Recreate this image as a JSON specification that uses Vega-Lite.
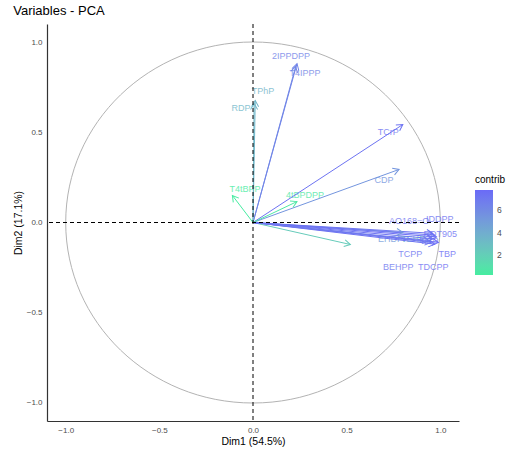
{
  "$schema": "https://vega.github.io/schema/vega-lite/v6.json",
  "width": 412,
  "height": 397,
  "autosize": "none",
  "padding": {"left": 47, "top": 24, "right": 56, "bottom": 29},
  "background": "white",
  "config": {
    "view": {"stroke": null},
    "font": "Liberation Sans"
  },
  "title": {"text": "Variables - PCA", "anchor": "start", "fontSize": 13, "fontWeight": "normal", "color": "#000000", "offset": 6},
  "resolve": {"scale": {"color": "shared"}, "legend": {"color": "independent"}},
  "datasets": {
    "vars": [
      {"name": "2IPPDPP", "x": 0.235, "y": 0.88, "lx": 0.203, "ly": 0.92, "contrib": 6.4},
      {"name": "T4IPPP", "x": 0.228, "y": 0.865, "lx": 0.278, "ly": 0.831, "contrib": 6.2},
      {"name": "TPhP", "x": 0.012, "y": 0.676, "lx": 0.053, "ly": 0.731, "contrib": 3.5},
      {"name": "RDP", "x": 0.006, "y": 0.66, "lx": -0.064, "ly": 0.632, "contrib": 3.4},
      {"name": "TCrP", "x": 0.8, "y": 0.543, "lx": 0.722, "ly": 0.499, "contrib": 7.3},
      {"name": "CDP", "x": 0.78, "y": 0.294, "lx": 0.7, "ly": 0.238, "contrib": 5.4},
      {"name": "T4tBPP", "x": -0.11, "y": 0.15, "lx": -0.043, "ly": 0.188, "contrib": 0.27},
      {"name": "4tBPDPP", "x": 0.235, "y": 0.116, "lx": 0.278, "ly": 0.155, "contrib": 0.53},
      {"name": "EHDPP", "x": 0.8, "y": -0.055, "lx": 0.75, "ly": -0.094, "contrib": 5.0},
      {"name": "TEHP", "x": 0.52, "y": -0.122, "lx": 0.855, "ly": -0.094, "contrib": 2.2},
      {"name": "AO168=O", "x": 0.96, "y": -0.06, "lx": 0.834, "ly": 0.006, "contrib": 7.2},
      {"name": "IDDPP", "x": 0.97, "y": -0.07, "lx": 0.997, "ly": 0.017, "contrib": 7.3},
      {"name": "RDT905", "x": 0.98, "y": -0.08, "lx": 1.0, "ly": -0.061, "contrib": 7.5},
      {"name": "TBP", "x": 0.99, "y": -0.11, "lx": 1.037, "ly": -0.177, "contrib": 7.7},
      {"name": "TDCPP", "x": 0.97, "y": -0.12, "lx": 0.963, "ly": -0.249, "contrib": 7.4},
      {"name": "BEHPP", "x": 0.95, "y": -0.11, "lx": 0.775, "ly": -0.249, "contrib": 7.1},
      {"name": "TCPP", "x": 0.96, "y": -0.09, "lx": 0.84, "ly": -0.172, "contrib": 7.2},
      {"name": "TiBP", "x": 0.94, "y": -0.1, "lx": 0.94, "ly": -0.1, "contrib": 6.9}
    ]
  },
  "layer": [
    {
      "data": {"values": [{"cx": 0, "cy": 0}]},
      "mark": {
        "type": "point",
        "shape": "M1,0C1,0.5322 0.5523,0.9637 0,0.9637C-0.5523,0.9637 -1,0.5322 -1,0C-1,-0.5322 -0.5523,-0.9637 0,-0.9637C0.5523,-0.9637 1,-0.5322 1,0Z",
        "filled": false,
        "stroke": "#b3b3b3",
        "strokeWidth": 1,
        "size": 140325,
        "opacity": 1
      },
      "encoding": {
        "x": {
          "field": "cx", "type": "quantitative",
          "scale": {"domain": [-1.1, 1.1], "nice": false, "zero": false},
          "axis": {"title": "Dim1 (54.5%)", "values": [-1, -0.5, 0, 0.5, 1], "format": ".1f", "grid": false, "ticks": false, "domainColor": "#333333", "domainWidth": 1.2, "labelColor": "#4d4d4d", "labelFontSize": 8, "labelPadding": 5, "titleFontSize": 10.5, "titleFontWeight": "normal", "titleColor": "#000000", "titlePadding": 2}
        },
        "y": {
          "field": "cy", "type": "quantitative",
          "scale": {"domain": [-1.1, 1.1], "nice": false, "zero": false},
          "axis": {"title": "Dim2 (17.1%)", "values": [-1, -0.5, 0, 0.5, 1], "format": ".1f", "grid": false, "ticks": false, "domainColor": "#333333", "domainWidth": 1.2, "labelColor": "#4d4d4d", "labelFontSize": 8, "labelPadding": 5, "titleFontSize": 10.5, "titleFontWeight": "normal", "titleColor": "#000000", "titlePadding": 3}
        }
      }
    },
    {
      "data": {"name": "vars"},
      "mark": {"type": "text", "fontSize": 9, "baseline": "middle", "align": "center", "opacity": 0.8},
      "encoding": {
        "x": {"field": "lx", "type": "quantitative"},
        "y": {"field": "ly", "type": "quantitative"},
        "text": {"field": "name", "type": "nominal"},
        "color": {"field": "contrib", "type": "quantitative", "legend": null}
      }
    },
    {
      "data": {"name": "vars"},
      "mark": {"type": "rule", "strokeWidth": 1},
      "encoding": {
        "x": {"field": "x", "type": "quantitative"},
        "y": {"field": "y", "type": "quantitative"},
        "x2": {"datum": 0},
        "y2": {"datum": 0},
        "color": {
          "field": "contrib", "type": "quantitative",
          "scale": {"domain": [0.22, 7.8], "range": ["#45eda0", "#6a6af7"], "interpolate": "lab", "nice": false, "zero": false},
          "legend": {"type": "gradient", "direction": "vertical", "title": "contrib", "orient": "none", "legendX": 428, "legendY": 151, "gradientLength": 85, "gradientThickness": 18, "values": [2, 4, 6], "titleFontSize": 10, "titleFontWeight": "normal", "titleColor": "#000000", "labelFontSize": 8.5, "labelColor": "#4d4d4d", "gradientStrokeWidth": 0, "labelOffset": 4, "titlePadding": 5}
        }
      }
    },
    {
      "data": {"name": "vars"},
      "transform": [{"calculate": "atan2(datum.x * 187.3, datum.y * 180.5) * 180 / PI", "as": "ang"}],
      "mark": {"type": "point", "shape": "M-0.5,0.866L0,0L0.5,0.866", "filled": false, "size": 196, "strokeWidth": 1, "opacity": 1},
      "encoding": {
        "x": {"field": "x", "type": "quantitative"},
        "y": {"field": "y", "type": "quantitative"},
        "angle": {"field": "ang", "type": "quantitative", "scale": {"domain": [0, 360], "range": [0, 360]}, "legend": null},
        "color": {"field": "contrib", "type": "quantitative", "legend": null}
      }
    },
    {
      "data": {"values": [{"z": 0}]},
      "mark": {"type": "rule", "strokeDash": [4, 3], "color": "#000000", "strokeWidth": 1},
      "encoding": {"y": {"field": "z", "type": "quantitative"}}
    },
    {
      "data": {"values": [{"z": 0}]},
      "mark": {"type": "rule", "strokeDash": [4, 3], "color": "#000000", "strokeWidth": 1},
      "encoding": {"x": {"field": "z", "type": "quantitative"}}
    }
  ]
}
